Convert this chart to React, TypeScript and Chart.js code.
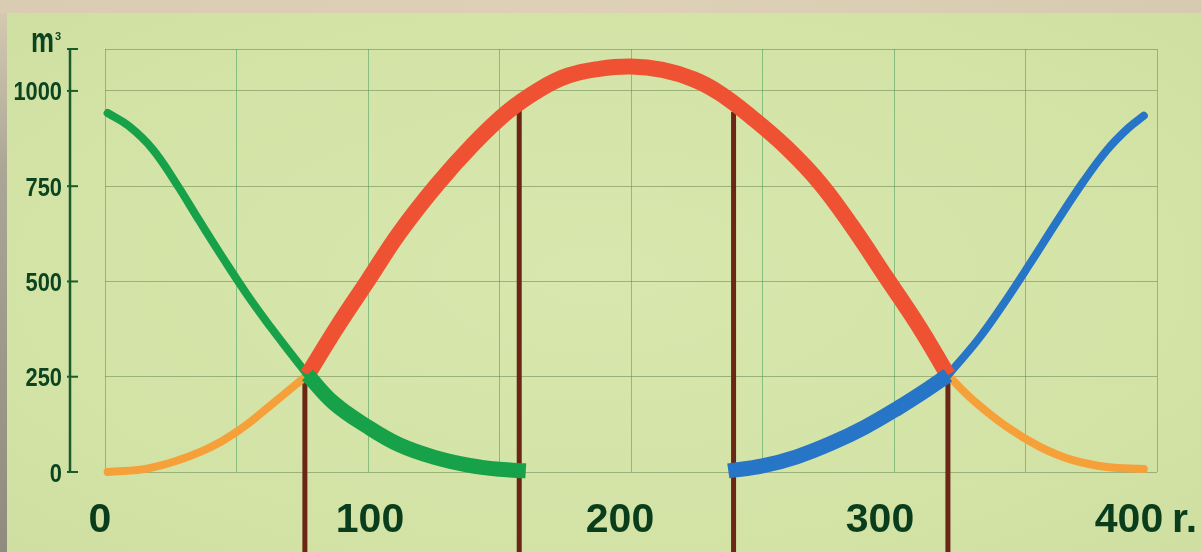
import { useEffect, useRef } from "react";
import { Chart, registerables } from "chart.js";

Chart.register(...registerables);

// ---- axis data ----
const xTickValues = [0, 100, 200, 300, 400];
const xTickLabels = ["0", "100", "200", "300", "400"];
const xUnit = "r.";
const yTickValues = [0, 250, 500, 750, 1000];
const yTickLabels = ["0", "250", "500", "750", "1000"];
const yTop = 1110;
const yUnit = "m";
const yUnitSup = "3";

// ---- series data ----
const greenThinX = [1, 9, 18, 27, 36, 45, 54, 63, 70, 77];
const greenThinY = [942, 908, 848, 758, 658, 560, 466, 380, 317, 255];

const greenThickX = [77, 87, 100, 112, 125, 138, 150, 160];
const greenThickY = [255, 181, 118, 71, 39, 18, 7, 3];

const orangeLeftX = [1, 17, 36, 51, 64, 77];
const orangeLeftY = [0, 10, 52, 110, 181, 255];

const redX = [77, 88, 100, 112, 126, 140, 153, 165, 176, 188, 200, 212, 224, 234, 246, 259, 272, 284, 297, 310, 320.5];
const redY = [255, 378, 503, 628, 752, 860, 945, 1003, 1040, 1058, 1064, 1055, 1030, 993, 930, 852, 757, 645, 511, 376, 254];

const orangeRightX = [320.5, 330, 343, 355.5, 368, 381, 395];
const orangeRightY = [254, 189, 118, 66, 31, 13, 8];

const blueThickX = [237, 250, 263, 276, 289, 302, 312, 320.5];
const blueThickY = [3, 16, 40, 75, 118, 170, 214, 254];

const blueThinX = [320.5, 332, 342, 352, 362, 372, 381, 389, 395];
const blueThinY = [254, 348, 445, 550, 658, 762, 845, 902, 935];

const dividerX = [76, 157.5, 239, 320.5];
const dividerTop = [245, 960, 945, 245];
const dividerBottom = -215;

const pts = (xs: number[], ys: number[]) => xs.map((x, i) => ({ x, y: ys[i] }));

const C_GREEN = "#17a24a";
const C_RED = "#ee5232";
const C_ORANGE = "#f6a03a";
const C_BLUE = "#2775c6";
const C_BROWN = "#6b2616";
const C_TEXT = "#0c4420";

const decor = {
  id: "decor",
  afterDraw(chart: any) {
    const ctx: CanvasRenderingContext2D = chart.ctx;
    const ys = chart.scales.y;
    const xs = chart.scales.x;
    const axisX = 70;
    ctx.save();
    // detached y axis
    ctx.strokeStyle = "#1b5a2b";
    ctx.lineWidth = 2.5;
    ctx.beginPath();
    ctx.moveTo(axisX, ys.getPixelForValue(yTop));
    ctx.lineTo(axisX, ys.getPixelForValue(0) + 1);
    ctx.stroke();
    ctx.lineWidth = 2;
    [...yTickValues, yTop].forEach((v) => {
      const py = ys.getPixelForValue(v);
      ctx.beginPath();
      ctx.moveTo(axisX - 3, py);
      ctx.lineTo(axisX + 8, py);
      ctx.stroke();
    });
    // y labels
    ctx.fillStyle = C_TEXT;
    ctx.textAlign = "right";
    ctx.textBaseline = "alphabetic";
    ctx.font = "bold 26px 'Liberation Sans', Arial, sans-serif";
    yTickValues.forEach((v, i) => {
      const py = ys.getPixelForValue(v);
      ctx.save();
      ctx.translate(62, py + 9.5);
      ctx.scale(0.84, 1);
      ctx.fillText(yTickLabels[i], 0, 0);
      ctx.restore();
    });
    // unit m³
    ctx.save();
    ctx.textAlign = "left";
    ctx.font = "bold 35px 'Liberation Sans', Arial, sans-serif";
    ctx.translate(31, 52);
    ctx.scale(0.74, 1);
    ctx.fillText(yUnit, 0, 0);
    ctx.restore();
    ctx.textAlign = "left";
    ctx.font = "bold 11px 'Liberation Sans', Arial, sans-serif";
    ctx.fillText(yUnitSup, 55, 40);
    // x labels
    const shift = [-5, 2, -11, -14, -28];
    ctx.font = "bold 41px 'Liberation Sans', Arial, sans-serif";
    ctx.fillStyle = "#0a3d1c";
    xTickValues.forEach((v, i) => {
      const px = xs.getPixelForValue(v) + shift[i];
      ctx.textAlign = "center";
      ctx.fillText(xTickLabels[i], px, 532);
      if (i === xTickValues.length - 1) {
        ctx.textAlign = "left";
        ctx.fillText(xUnit, px + 43, 532);
      }
    });
    ctx.restore();
  },
};

export default function App() {
  const ref = useRef<HTMLCanvasElement>(null);
  useEffect(() => {
    const curve = (data: any, color: string, w: number, cap: string) => ({
      data,
      borderColor: color,
      borderWidth: w,
      borderCapStyle: cap,
      borderJoinStyle: "round",
      tension: 0.4,
      pointRadius: 0,
      clip: false,
    });
    const dividers = dividerX.map((x, i) => ({
      data: [
        { x, y: dividerTop[i] },
        { x, y: dividerBottom },
      ],
      borderColor: C_BROWN,
      borderWidth: 5,
      borderCapStyle: "butt",
      pointRadius: 0,
      clip: false,
    }));
    // first dataset is drawn on top
    const datasets: any[] = [
      curve(pts(blueThickX, blueThickY), C_BLUE, 15, "butt"),
      curve(pts(greenThickX, greenThickY), C_GREEN, 15, "butt"),
      curve(pts(redX, redY), C_RED, 16, "butt"),
      curve(pts(blueThinX, blueThinY), C_BLUE, 8, "round"),
      curve(pts(greenThinX, greenThinY), C_GREEN, 8, "round"),
      curve(pts(orangeLeftX, orangeLeftY), C_ORANGE, 8, "round"),
      curve(pts(orangeRightX, orangeRightY), C_ORANGE, 8, "round"),
      ...dividers,
    ];
    const chart = new Chart(ref.current!, {
      type: "line",
      data: { datasets },
      options: {
        responsive: false,
        animation: false,
        devicePixelRatio: 1,
        layout: { padding: { left: 105, right: 44, top: 49, bottom: 80 } },
        plugins: { legend: { display: false }, tooltip: { enabled: false } },
        scales: {
          x: {
            type: "linear",
            min: 0,
            max: 400,
            ticks: { display: false, stepSize: 50 },
            grid: { color: "rgba(70,160,90,0.55)", lineWidth: 1, drawTicks: false },
            border: { display: false },
            afterFit: (s: any) => {
              s.height = 0;
            },
          },
          y: {
            type: "linear",
            min: 0,
            max: yTop,
            ticks: { display: false },
            afterBuildTicks: (s: any) => {
              s.ticks = [...yTickValues, yTop].map((value) => ({ value }));
            },
            grid: { color: "rgba(95,125,75,0.5)", lineWidth: 1, drawTicks: false },
            border: { display: false },
            afterFit: (s: any) => {
              s.width = 0;
            },
          },
        },
      } as any,
      plugins: [decor],
    });
    return () => chart.destroy();
  }, []);
  return (
    <div
      style={{
        position: "fixed",
        left: 0,
        top: 0,
        width: 1201,
        height: 552,
        overflow: "hidden",
        background: "radial-gradient(ellipse at 50% 50%, #d8e7ad 0%, #d3e3a6 70%, #cfdfa2 100%)",
      }}
    >
      <div
        style={{
          position: "absolute",
          left: 0,
          top: 0,
          width: 1201,
          height: 13,
          background: "linear-gradient(90deg, #d9ccb3, #ddd0b6 50%, #d6cbb0)",
        }}
      />
      <div
        style={{
          position: "absolute",
          left: 0,
          top: 13,
          width: 7,
          height: 539,
          background: "linear-gradient(180deg, #d4c9b0 0%, #aaa594 30%, #8f8c7f 100%)",
        }}
      />
      <canvas
        ref={ref}
        width={1201}
        height={552}
        style={{ position: "absolute", left: 0, top: 0, width: 1201, height: 552 }}
      />
    </div>
  );
}
